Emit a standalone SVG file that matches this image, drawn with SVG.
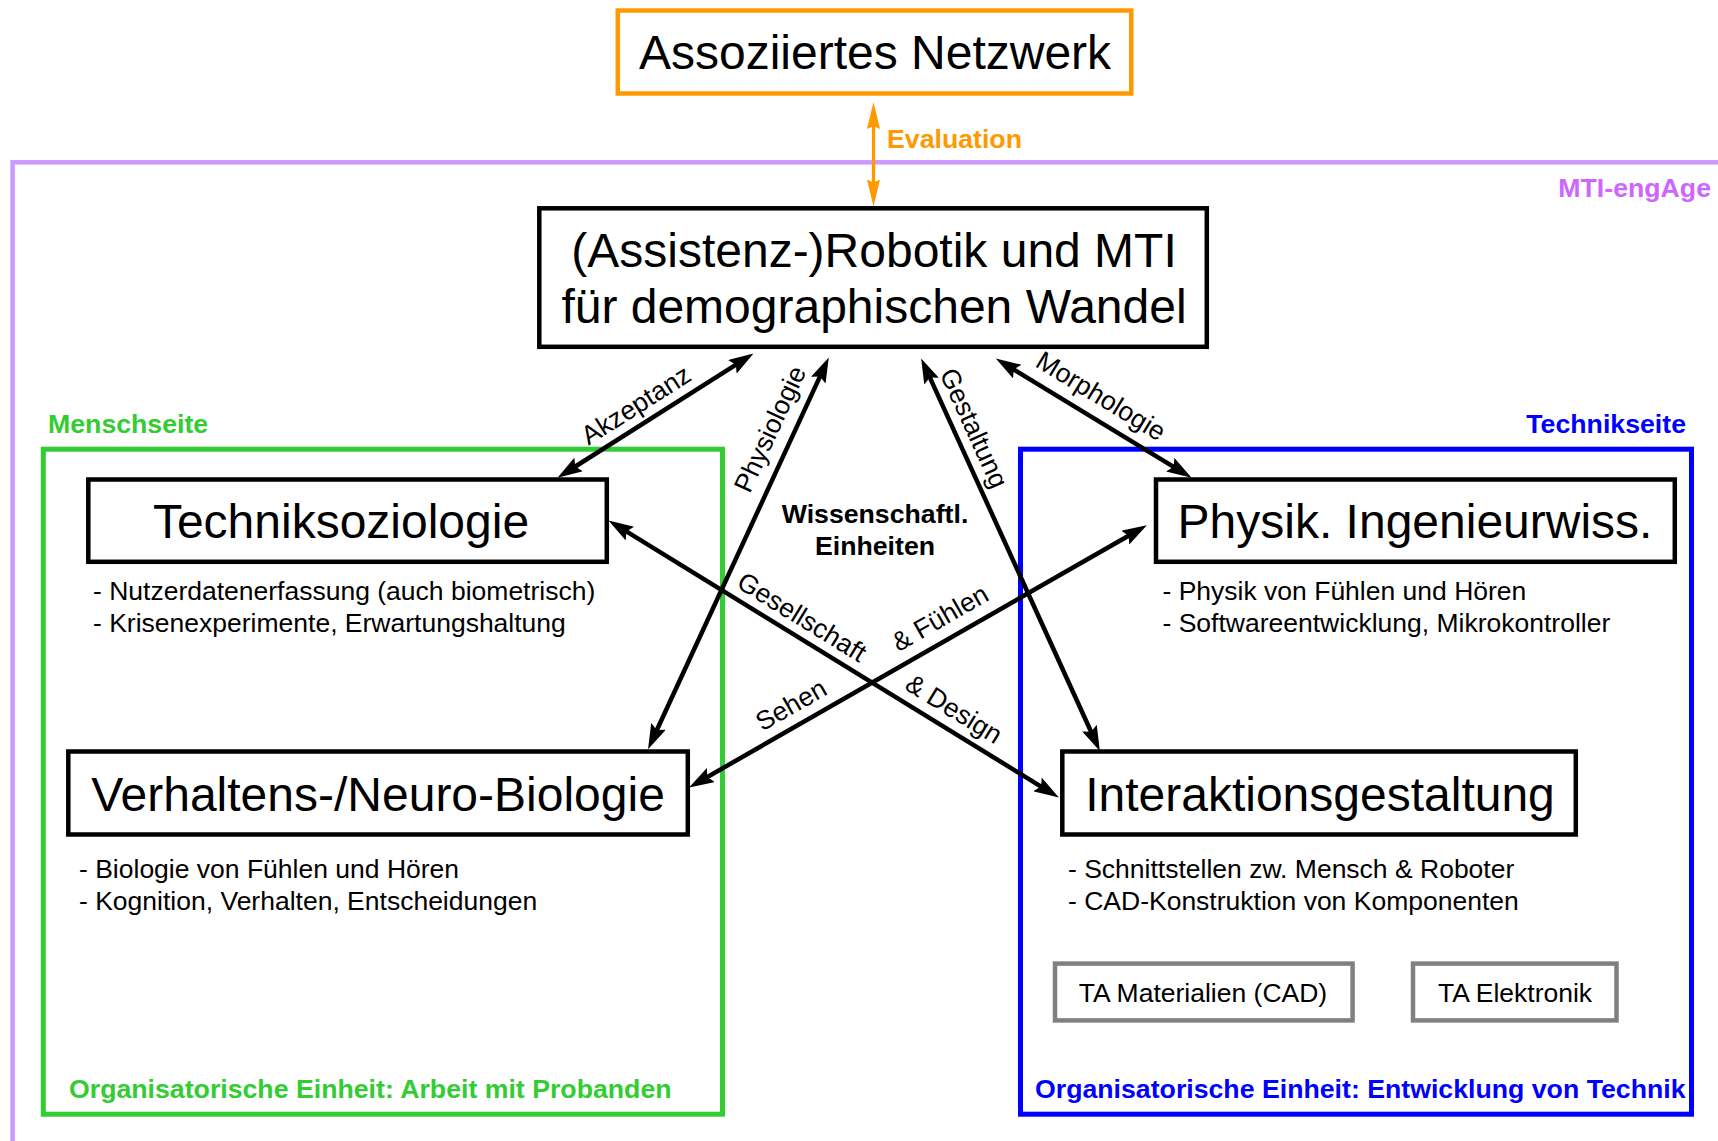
<svg xmlns="http://www.w3.org/2000/svg" width="1718" height="1141" viewBox="0 0 1718 1141">
<style>
text{font-family:"Liberation Sans",Arial,sans-serif;fill:#000}
.big{font-size:48px;text-anchor:middle}
.sm{font-size:26.5px}
.lbl{font-size:26.5px;text-anchor:middle}
.b{font-weight:bold;font-size:26.7px}
.box{fill:#fff;stroke:#000;stroke-width:4.5}
.gbox{fill:#fff;stroke:#808080;stroke-width:4.5}
.conn{fill:none;stroke:#000;stroke-width:4.5;marker-start:url(#ah);marker-end:url(#ah)}
</style>
<defs>
<marker id="ah" viewBox="0 0 25 16" refX="16" refY="8" markerWidth="25" markerHeight="16" markerUnits="userSpaceOnUse" orient="auto-start-reverse">
<path d="M0,0 L25,8 L0,16 L4,8 z" fill="#000"/>
</marker>
<marker id="oh" viewBox="0 0 27 13" refX="19" refY="6.5" markerWidth="27" markerHeight="13" markerUnits="userSpaceOnUse" orient="auto-start-reverse">
<path d="M0,0 L27,6.5 L0,13 L3,6.5 z" fill="#ff9900"/>
</marker>
</defs>
<rect width="1718" height="1141" fill="#fff"/>

<g id="frame-mti">
<rect x="12.6" y="162.3" width="1760" height="1040" fill="none" stroke="#cc99ff" stroke-width="4.5"/>
<text x="1711" y="197" class="b" text-anchor="end" style="fill:#cc66ff">MTI-engAge</text>
</g>

<g id="frame-mensch">
<rect x="43.3" y="449.2" width="679.2" height="665" fill="none" stroke="#33cc33" stroke-width="5"/>
<text x="48" y="433" class="b" style="fill:#33cc33">Menschseite</text>
<text x="69" y="1098" class="b" style="fill:#33cc33">Organisatorische Einheit: Arbeit mit Probanden</text>
</g>

<g id="frame-technik">
<rect x="1020.5" y="449.2" width="671" height="665" fill="none" stroke="#0000ff" stroke-width="5"/>
<text x="1686" y="433" class="b" text-anchor="end" style="fill:#0000ff">Technikseite</text>
<text x="1035" y="1098" class="b" style="fill:#0000ff">Organisatorische Einheit: Entwicklung von Technik</text>
</g>

<g id="netzwerk">
<rect x="617.8" y="10.5" width="513.5" height="83" fill="#fff" stroke="#ff9900" stroke-width="4.5"/>
<text x="875" y="69.3" class="big">Assoziiertes Netzwerk</text>
</g>

<g id="robotik">
<rect x="539.3" y="208.3" width="667.5" height="138.5" class="box"/>
<text x="874" y="267" class="big">(Assistenz-)Robotik und MTI</text>
<text x="874" y="323" class="big">für demographischen Wandel</text>
</g>

<g id="wissenschaftl">
<text x="875" y="523" class="b" text-anchor="middle">Wissenschaftl.</text>
<text x="875" y="555" class="b" text-anchor="middle">Einheiten</text>
</g>

<g id="techniksoziologie">
<rect x="88.3" y="479.5" width="518.5" height="82.3" class="box"/>
<text x="341" y="538.3" class="big">Techniksoziologie</text>
<text x="93" y="600" class="sm">- Nutzerdatenerfassung (auch biometrisch)</text>
<text x="93" y="632" class="sm">- Krisenexperimente, Erwartungshaltung</text>
</g>

<g id="verhaltensbiologie">
<rect x="68.3" y="751.5" width="619.5" height="83" class="box"/>
<text x="378" y="811" class="big">Verhaltens-/Neuro-Biologie</text>
<text x="79" y="877.5" class="sm">- Biologie von Fühlen und Hören</text>
<text x="79" y="909.5" class="sm">- Kognition, Verhalten, Entscheidungen</text>
</g>

<g id="physik">
<rect x="1156" y="479.5" width="518.8" height="82.3" class="box"/>
<text x="1415" y="538.3" class="big">Physik. Ingenieurwiss.</text>
<text x="1162.5" y="600" class="sm">- Physik von Fühlen und Hören</text>
<text x="1162.5" y="632" class="sm">- Softwareentwicklung, Mikrokontroller</text>
</g>

<g id="interaktion">
<rect x="1062.3" y="751.5" width="513.5" height="83" class="box"/>
<text x="1320" y="811" class="big">Interaktionsgestaltung</text>
<text x="1068" y="877.5" class="sm">- Schnittstellen zw. Mensch &amp; Roboter</text>
<text x="1068" y="909.5" class="sm">- CAD-Konstruktion von Komponenten</text>
</g>

<g id="ta-materialien">
<rect x="1055" y="963.6" width="297.6" height="56.8" class="gbox"/>
<text x="1203" y="1002" class="lbl">TA Materialien (CAD)</text>
</g>

<g id="ta-elektronik">
<rect x="1413" y="963.6" width="203.5" height="56.8" class="gbox"/>
<text x="1515" y="1002" class="lbl">TA Elektronik</text>
</g>

<g id="connectors">
<path d="M873.5,110 L873.5,198.5" fill="none" stroke="#ff9900" stroke-width="3.3" marker-start="url(#oh)" marker-end="url(#oh)"/>
<text x="887" y="148" class="b" style="fill:#ff9900">Evaluation</text>

<path class="conn" d="M745.9,358.3 L565.1,473.0"/>
<path class="conn" d="M825.0,365.6 L651.8,741.0"/>
<path class="conn" d="M924.9,366.6 L1096.1,742.7"/>
<path class="conn" d="M1003.5,363.2 L1183.9,473.1"/>
<path class="conn" d="M616.2,525.2 L1051.2,792.8"/>
<path class="conn" d="M696.9,783.0 L1139.1,529.7"/>

<text class="lbl" transform="translate(636,405) rotate(-32.4)" y="9">Akzeptanz</text>
<text class="lbl" transform="translate(770,429) rotate(-65.2)" y="9">Physiologie</text>
<text class="lbl" transform="translate(974,428) rotate(65.5)" y="9">Gestaltung</text>
<text class="lbl" transform="translate(1101,396) rotate(31.4)" y="9">Morphologie</text>
<text class="lbl" transform="translate(802,617) rotate(31.6)" y="9">Gesellschaft</text>
<text class="lbl" transform="translate(954,709) rotate(31.6)" y="9">&amp; Design</text>
<text class="lbl" transform="translate(940,618) rotate(-29.8)" y="9">&amp; Fühlen</text>
<text class="lbl" transform="translate(791,705) rotate(-29.8)" y="9">Sehen</text>
</g>
</svg>
